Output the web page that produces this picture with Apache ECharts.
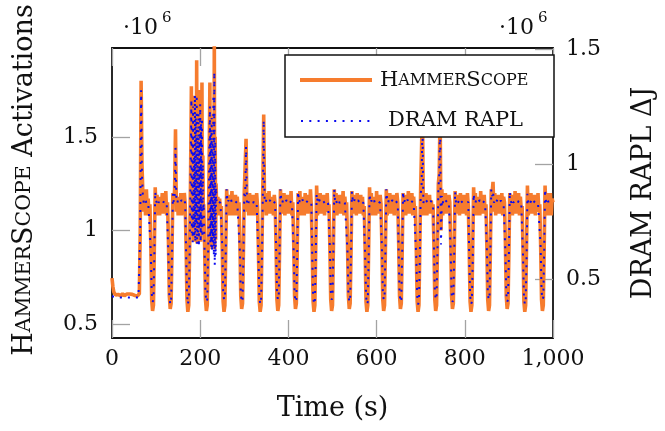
<!DOCTYPE html>
<html>
<head>
<meta charset="utf-8">
<script src="https://cdn.jsdelivr.net/npm/echarts@6/dist/echarts.min.js"></script>
<style>
html,body{margin:0;padding:0;background:#fff;}
#chart{width:665px;height:431px;}
</style>
</head>
<body>
<div id="chart"></div>
<script>
// ---- data ----
const xTicks = [0, 200, 400, 600, 800, 1000];
const leftTicks = [0.5, 1, 1.5];
const rightTicks = [0.5, 1, 1.5];
const legendNames = ['HammerScope', 'DRAM RAPL'];

// HammerScope activations (x10^6): runs of [startTime s, step s, values]
const hammerScopeRuns = [
 [0, 2, [0.745,0.70,0.672,0.662,0.655,0.66,0.652,0.658,0.655,0.66,0.65,0.657,0.662,0.655,0.65,0.658,0.655,0.66,0.652,0.657,0.66,0.655,0.65,0.658,0.662,0.655,0.652,0.66,0.656,0.65,0.658,0.662, 1.0,1.80,1.35,1.2,1.1,1.2,1.08,1.22,1.11,1.17,1.08]],
 [86, 2, [1.14,0.92,0.63,0.57,0.6,0.9,1.23, 1.08,1.19,1.1,1.18,1.08,1.16,1.11,1.2,1.09,1.17,1.1,1.21,1.08]],
 [126, 2, [1.15,0.94,0.65,0.58,0.61,0.88,1.2, 1.14,1.22,1.54,1.1,1.18,1.08,1.17,1.1,1.2,1.08,1.16,1.11,1.2]],
 [166, 2, [1.14,0.92,0.63,0.565,0.6,0.9,1.25]],
 [180, 1, [1.77,0.97,1.55,1.0,1.68,0.94,1.45,1.1,1.72,0.95,1.62,1.0,1.91,0.93,1.58,1.05,1.7,0.96,1.5,1.02,1.75,0.94,1.6,1.0,1.79,0.98,1.4,1.12]],
 [208, 2, [1.14,0.92,0.63,0.57,0.6,0.9,1.3]],
 [222, 1, [1.79,0.93,1.55,0.92,1.62,0.9,1.45,0.95,1.6,0.92,2.05,0.9,1.5,0.95,1.25,1.15]],
 [238, 2, [1.1,1.18,1.08,1.17,1.1]],
 [248, 2, [1.13,0.9,0.62,0.565,0.6,0.91,1.22, 1.1,1.19,1.08,1.17,1.11,1.21,1.08,1.16,1.1,1.19,1.08,1.18,1.11]],
 [288, 2, [1.15,0.94,0.65,0.58,0.61,0.88,1.21, 1.2,1.49,1.1,1.18,1.08,1.2,1.11,1.16,1.08,1.19,1.1,1.17,1.08,1.2]],
 [330, 2, [1.13,0.9,0.62,0.565,0.6,0.91,1.23, 1.62,1.1,1.2,1.08,1.17,1.1,1.21,1.09,1.18,1.11,1.16,1.08,1.19]],
 [370, 2, [1.14,0.92,0.63,0.57,0.6,0.9,1.22, 1.09,1.18,1.1,1.2,1.08,1.17,1.11,1.19,1.09,1.16,1.1,1.21,1.08]],
 [410, 2, [1.15,0.94,0.65,0.58,0.61,0.88,1.2, 1.11,1.21,1.08,1.18,1.1,1.16,1.08,1.2,1.11,1.17,1.09,1.19,1.1,1.22]],
 [452, 2, [1.13,0.9,0.62,0.565,0.6,0.91,1.24, 1.08,1.18,1.1,1.2,1.09,1.16,1.11,1.19,1.08,1.17,1.1,1.2,1.1]],
 [492, 2, [1.14,0.92,0.63,0.57,0.6,0.9,1.22, 1.1,1.2,1.08,1.17,1.11,1.19,1.09,1.16,1.1,1.21,1.08,1.18,1.11]],
 [532, 2, [1.15,0.94,0.65,0.58,0.61,0.88,1.21, 1.09,1.19,1.1,1.17,1.08,1.2,1.11,1.16,1.09,1.19,1.1,1.18,1.08]],
 [572, 2, [1.13,0.9,0.62,0.565,0.6,0.91,1.23, 1.1,1.2,1.08,1.18,1.11,1.16,1.08,1.21,1.1,1.17,1.09,1.19]],
 [610, 2, [1.14,0.92,0.63,0.57,0.6,0.9,1.22, 1.08,1.18,1.1,1.2,1.09,1.17,1.11,1.19,1.08,1.16,1.1,1.2]],
 [648, 2, [1.15,0.94,0.65,0.58,0.61,0.88,1.2, 1.1,1.19,1.08,1.17,1.11,1.21,1.09,1.16,1.1,1.2,1.08,1.18,1.11]],
 [688, 2, [1.13,0.9,0.62,0.565,0.6,0.91,1.24, 1.25,1.65,1.08,1.18,1.1,1.2,1.08,1.17,1.11,1.19,1.09,1.16,1.1]],
 [728, 2, [1.14,0.92,0.63,0.57,0.6,0.9,1.25, 1.3,1.64,1.0,1.22,1.08,1.18,1.1,1.2,1.09,1.17,1.11,1.19]],
 [766, 2, [1.15,0.94,0.65,0.58,0.61,0.88,1.21, 1.09,1.19,1.1,1.17,1.08,1.2,1.11,1.16,1.09,1.19,1.1,1.18,1.08,1.2]],
 [808, 2, [1.13,0.9,0.62,0.565,0.6,0.91,1.23, 1.1,1.2,1.08,1.18,1.11,1.16,1.08,1.21,1.1,1.17,1.09,1.19,1.1]],
 [848, 2, [1.14,0.92,0.63,0.57,0.6,0.9,1.22, 1.2,1.26,1.1,1.2,1.08,1.17,1.11,1.19,1.09,1.16,1.1,1.2,1.08,1.18]],
 [890, 2, [1.15,0.94,0.65,0.58,0.61,0.88,1.2, 1.1,1.19,1.08,1.17,1.11,1.21,1.09,1.16,1.1,1.2,1.08,1.18,1.11]],
 [930, 2, [1.13,0.9,0.62,0.565,0.6,0.91,1.24, 1.08,1.18,1.1,1.2,1.09,1.16,1.11,1.19,1.08,1.17,1.1,1.2,1.1]],
 [970, 2, [1.14,0.92,0.63,0.57,0.6,0.9,1.24, 1.1,1.2,1.08,1.18,1.11,1.2,1.08,1.17,1.15]]
];

// DRAM RAPL energy delta (x10^6 J): same run layout
const dramRaplRuns = [
 [0, 2, [0.425,0.42,0.418,0.422,0.42,0.417,0.421,0.419,0.423,0.42,0.418,0.421,0.42,0.417,0.422,0.42,0.419,0.423,0.42,0.418,0.421,0.42,0.417,0.422,0.42,0.419,0.421,0.42,0.418,0.422,0.42,0.425, 0.7,1.32,0.95,0.86,0.83,0.845,0.835,0.84,0.83,0.838,0.832]],
 [86, 2, [0.83,0.62,0.44,0.40,0.41,0.6,0.88, 0.84,0.83,0.845,0.832,0.838,0.828,0.842,0.835,0.83,0.84,0.833,0.838,0.83]],
 [126, 2, [0.835,0.6,0.43,0.39,0.40,0.58,0.87, 0.835,0.86,1.07,0.84,0.83,0.845,0.832,0.838,0.828,0.842,0.835,0.83,0.84]],
 [166, 2, [0.83,0.62,0.44,0.39,0.41,0.6,0.92]],
 [180, 1, [1.28,0.7,1.15,0.66,1.25,0.72,1.05,0.68,1.3,0.66,1.2,0.74,1.3,0.65,1.12,0.7,1.22,0.64,1.1,0.72,1.26,0.66,1.18,0.7,1.2,0.68,1.0,0.8]],
 [208, 2, [0.83,0.62,0.44,0.40,0.41,0.6,0.95]],
 [222, 1, [1.25,0.66,1.15,0.64,1.2,0.62,1.1,0.66,1.3,0.6,1.40,0.56,1.1,0.6,0.9,0.84]],
 [238, 2, [0.83,0.84,0.832,0.838,0.83]],
 [248, 2, [0.83,0.64,0.45,0.41,0.42,0.62,0.89, 0.832,0.842,0.83,0.838,0.845,0.83,0.836,0.828,0.84,0.834,0.843,0.83,0.837]],
 [288, 2, [0.83,0.62,0.44,0.40,0.41,0.6,0.88, 0.86,1.075,0.83,0.845,0.832,0.838,0.828,0.842,0.835,0.83,0.84,0.833,0.838,0.83]],
 [330, 2, [0.835,0.6,0.43,0.39,0.40,0.58,0.87, 1.19,0.84,0.83,0.845,0.832,0.838,0.828,0.842,0.835,0.83,0.84,0.833,0.838]],
 [370, 2, [0.83,0.64,0.45,0.41,0.42,0.62,0.89, 0.84,0.83,0.845,0.832,0.838,0.828,0.842,0.835,0.83,0.84,0.833,0.838,0.83]],
 [410, 2, [0.83,0.62,0.44,0.40,0.41,0.6,0.88, 0.832,0.842,0.83,0.838,0.845,0.83,0.836,0.828,0.84,0.834,0.843,0.83,0.837,0.835]],
 [452, 2, [0.835,0.6,0.43,0.39,0.40,0.58,0.87, 0.84,0.83,0.845,0.832,0.838,0.828,0.842,0.835,0.83,0.84,0.833,0.838,0.83]],
 [492, 2, [0.83,0.64,0.45,0.41,0.42,0.62,0.89, 0.832,0.842,0.83,0.838,0.845,0.83,0.836,0.828,0.84,0.834,0.843,0.83,0.837]],
 [532, 2, [0.83,0.62,0.44,0.40,0.41,0.6,0.88, 0.84,0.83,0.845,0.832,0.838,0.828,0.842,0.835,0.83,0.84,0.833,0.838,0.83]],
 [572, 2, [0.835,0.6,0.43,0.39,0.40,0.58,0.87, 0.832,0.842,0.83,0.838,0.845,0.83,0.836,0.828,0.84,0.834,0.843,0.83]],
 [610, 2, [0.83,0.64,0.45,0.41,0.42,0.62,0.89, 0.84,0.83,0.845,0.832,0.838,0.828,0.842,0.835,0.83,0.84,0.833,0.838]],
 [648, 2, [0.83,0.62,0.44,0.40,0.41,0.6,0.88, 0.832,0.842,0.83,0.838,0.845,0.83,0.836,0.828,0.84,0.834,0.843,0.83,0.837]],
 [688, 2, [0.835,0.6,0.43,0.39,0.40,0.58,0.87, 0.9,1.2,0.83,0.845,0.832,0.838,0.828,0.842,0.835,0.83,0.84,0.833,0.838]],
 [728, 2, [0.83,0.64,0.45,0.41,0.42,0.62,0.89, 0.95,1.2,0.65,0.86,0.83,0.845,0.832,0.838,0.828,0.842,0.835,0.83]],
 [766, 2, [0.83,0.62,0.44,0.40,0.41,0.6,0.88, 0.832,0.842,0.83,0.838,0.845,0.83,0.836,0.828,0.84,0.834,0.843,0.83,0.837,0.835]],
 [808, 2, [0.835,0.6,0.43,0.39,0.40,0.58,0.87, 0.84,0.83,0.845,0.832,0.838,0.828,0.842,0.835,0.83,0.84,0.833,0.838,0.83]],
 [848, 2, [0.83,0.64,0.45,0.41,0.42,0.62,0.89, 0.86,0.88,0.832,0.842,0.83,0.838,0.845,0.83,0.836,0.828,0.84,0.834,0.843,0.83]],
 [890, 2, [0.83,0.62,0.44,0.40,0.41,0.6,0.88, 0.84,0.83,0.845,0.832,0.838,0.828,0.842,0.835,0.83,0.84,0.833,0.838,0.83]],
 [930, 2, [0.835,0.6,0.43,0.39,0.40,0.58,0.87, 0.832,0.842,0.83,0.838,0.845,0.83,0.836,0.828,0.84,0.834,0.843,0.83,0.837]],
 [970, 2, [0.83,0.64,0.45,0.41,0.42,0.62,0.89, 0.84,0.83,0.845,0.832,0.838,0.828,0.842,0.835,0.836]]
];

function expandRuns(runs) {
  const pts = [];
  runs.forEach(([start, step, vals]) => vals.forEach((v, j) => pts.push([start + step * j, v])));
  return pts;
}

const FONT = 'DejaVu Serif';
const INK = '#111';
const ORANGE = '#f67c2e';
const BLUE = '#0a0af0';
const TICK = {color: '#a3a3a3', width: 1.3};
const AXISLINE = {color: INK, width: 1.8};

const capsRich = (big, small) => ({
  a: {fontFamily: FONT, fontSize: big, color: INK},
  b: {fontFamily: FONT, fontSize: small, color: INK}
});

const chart = echarts.init(document.getElementById('chart'), null, {renderer: 'canvas'});
chart.setOption({
  animation: false,
  backgroundColor: '#fff',
  textStyle: {fontFamily: FONT},
  grid: {left: 112, right: 102, top: 48, bottom: 93},
  xAxis: [{
    type: 'value', position: 'bottom', min: 0, max: 1000, interval: 200,
    axisLine: {show: true, onZero: false, lineStyle: AXISLINE},
    axisTick: {show: true, inside: true, length: 18, lineStyle: TICK, customValues: xTicks},
    axisLabel: {fontFamily: FONT, fontSize: 22, color: INK, margin: 10, customValues: xTicks,
      formatter: v => v >= 1000 ? (v / 1000) + ',' + String(v % 1000).padStart(3, '0') : String(v)},
    splitLine: {show: false},
    name: 'Time (s)', nameLocation: 'middle', nameGap: 57,
    nameTextStyle: {fontFamily: FONT, fontSize: 27, color: INK}
  }, {
    type: 'value', position: 'top', min: 0, max: 1000, interval: 200,
    axisLine: {show: true, onZero: false, lineStyle: AXISLINE},
    axisTick: {show: true, inside: true, length: 18, lineStyle: TICK},
    axisLabel: {show: false},
    splitLine: {show: false}
  }],
  yAxis: [{
    type: 'value', position: 'left', min: 0.425, max: 1.975,
    axisLine: {show: true, onZero: false, lineStyle: AXISLINE},
    axisTick: {show: true, inside: true, length: 18, lineStyle: TICK, customValues: leftTicks},
    axisLabel: {fontFamily: FONT, fontSize: 22, color: INK, margin: 14, customValues: leftTicks},
    splitLine: {show: false},
    name: '{a|H}{b|AMMER}{a|S}{b|COPE}{a| Activations}',
    nameLocation: 'middle', nameGap: 74, nameRotate: 90,
    nameTextStyle: {fontFamily: FONT, fontSize: 27, color: INK, padding: [0, 0, 0, 26], rich: capsRich(27, 20.5)}
  }, {
    type: 'value', position: 'right', min: 0.2435, max: 1.504,
    axisLine: {show: true, onZero: false, lineStyle: AXISLINE},
    axisTick: {show: true, inside: true, length: 18, lineStyle: TICK, customValues: rightTicks},
    axisLabel: {fontFamily: FONT, fontSize: 22, color: INK, margin: 13, customValues: rightTicks},
    splitLine: {show: false},
    name: 'DRAM RAPL ΔJ', nameLocation: 'middle', nameGap: 77, nameRotate: 90,
    nameTextStyle: {fontFamily: FONT, fontSize: 27, color: INK}
  }],
  graphic: [
    {type: 'text', left: 123, top: 17, z: 10, style: {text: '·10', font: '22px "DejaVu Serif"', fill: INK}},
    {type: 'text', left: 162, top: 11, z: 10, style: {text: '6', font: '15px "DejaVu Serif"', fill: INK}},
    {type: 'text', left: 499, top: 17, z: 10, style: {text: '·10', font: '22px "DejaVu Serif"', fill: INK}},
    {type: 'text', left: 538, top: 11, z: 10, style: {text: '6', font: '15px "DejaVu Serif"', fill: INK}},
    // legend box
    {type: 'rect', z: 100, shape: {x: 285, y: 55, width: 269, height: 82},
      style: {fill: '#fff', stroke: INK, lineWidth: 1.5}},
    {type: 'line', z: 101, shape: {x1: 300, y1: 80, x2: 372, y2: 80},
      style: {stroke: ORANGE, lineWidth: 4}},
    {type: 'line', z: 101, shape: {x1: 301, y1: 121, x2: 374, y2: 121},
      style: {stroke: BLUE, lineWidth: 2, lineDash: [2, 6.3], lineCap: 'butt'}},
    {type: 'text', z: 101, x: 380, y: 81,
      style: {text: '{a|H}{b|AMMER}{a|S}{b|COPE}', rich: capsRich(21, 16), verticalAlign: 'middle', fill: INK}},
    {type: 'text', z: 101, x: 388, y: 121,
      style: {text: legendNames[1], font: '21px "DejaVu Serif"', verticalAlign: 'middle', fill: INK}}
  ],
  series: [{
    name: legendNames[0], type: 'line', xAxisIndex: 0, yAxisIndex: 0,
    data: expandRuns(hammerScopeRuns),
    symbol: 'none', showSymbol: false, silent: true, clip: true,
    lineStyle: {color: ORANGE, width: 3.6, join: 'bevel'},
    itemStyle: {color: ORANGE},
    emphasis: {disabled: true}, z: 2
  }, {
    name: legendNames[1], type: 'line', xAxisIndex: 0, yAxisIndex: 1,
    data: expandRuns(dramRaplRuns),
    symbol: 'none', showSymbol: false, silent: true, clip: true,
    lineStyle: {color: BLUE, width: 2, type: [2, 6], cap: 'butt'},
    itemStyle: {color: BLUE},
    emphasis: {disabled: true}, z: 3
  }]
});
</script>
</body>
</html>
